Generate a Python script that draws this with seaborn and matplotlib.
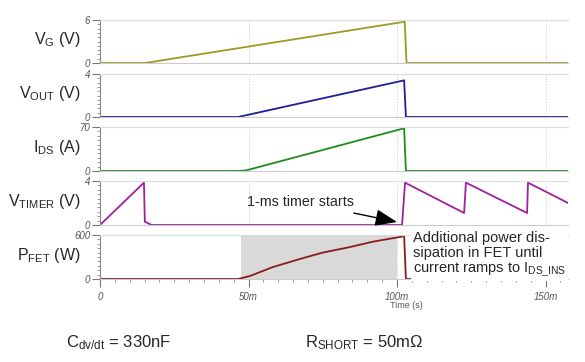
import numpy as np
import pandas as pd
import seaborn as sns
import matplotlib
matplotlib.use("Agg")
import matplotlib.pyplot as plt
from matplotlib.ticker import MultipleLocator, FixedLocator, FuncFormatter

# times in ms
vg_t = [0, 15.2, 102.6, 103.2, 157.6]
vg_v = [0, 0, 5.76, 0, 0]

vout_t = [0, 46.5, 102.4, 103.0, 157.6]
vout_v = [0, 0, 3.41, 0, 0]

ids_t = [0, 46.5, 49.0, 52.0, 102.4, 103.0, 157.6]
ids_v = [0, 0, 0.8, 4.5, 68, 0, 0]

vtim_t = [0, 14.8, 15.1, 17.4, 101.7, 102.7, 122.6, 123.2, 143.8, 144.1, 157.6]
vtim_v = [0, 3.85, 0.3, 0, 0, 3.85, 1.09, 3.85, 1.09, 3.85, 2.0]

pfet_t = [0, 46.5, 50.5, 58.0, 67.3, 75.0, 84.2, 92.0, 101.0, 102.4, 103.0, 157.6]
pfet_v = [0, 0, 41, 160, 273, 360, 436, 510, 573, 586, 0, 0]

panels = [
    ("V$_\\mathregular{G}$ (V)", vg_t, vg_v, 6, "#9e9a22"),
    ("V$_\\mathregular{OUT}$ (V)", vout_t, vout_v, 4, "#1f1f9a"),
    ("I$_\\mathregular{DS}$ (A)", ids_t, ids_v, 70, "#1d8c1d"),
    ("V$_\\mathregular{TIMER}$ (V)", vtim_t, vtim_v, 4, "#a0209e"),
    ("P$_\\mathregular{FET}$ (W)", pfet_t, pfet_v, 600, "#8b1c1c"),
]
shade_start, shade_end = 47.5, 100.0
x_ticks = [0, 50, 100, 150]
x_labels = ["0", "50m", "100m", "150m"]

sns.set_style("white")
plt.rcParams["font.family"] = ["Liberation Sans", "DejaVu Sans"]
plt.rcParams["mathtext.default"] = "regular"

W, H = 585, 362
fig = plt.figure(figsize=(W / 100, H / 100), dpi=100)
left, right = 100, 568
rows = [(20, 63), (74, 117), (127, 171), (181, 225), (235, 279)]
xmax = (right - left) / 2.97

axes = []
for i, ((label, t, v, top, color), (py0, py1)) in enumerate(zip(panels, rows)):
    ax = fig.add_axes([left / W, 1 - py1 / H, (right - left) / W, (py1 - py0) / H])
    axes.append(ax)
    df = pd.DataFrame({"t": t, "v": v})
    sns.lineplot(data=df, x="t", y="v", ax=ax, color=color, lw=1.3,
                 sort=False, estimator=None)
    ax.set_xlim(0, xmax)
    ax.set_ylim(0, top)
    for xv in [50, 100, 150]:
        ax.axvline(xv, color="#d4d4d4", lw=0.7, ls=(0, (1.5, 1.5)), zorder=0)
    ax.set_yticks([0, top])
    ax.set_yticklabels(["0", str(top)])
    ax.yaxis.set_minor_locator(MultipleLocator(top / 10))
    ax.tick_params(axis="y", which="major", length=6, width=0.8, color="#777777",
                   labelsize=7, labelcolor="#555555", pad=1, left=True)
    ax.tick_params(axis="y", which="minor", length=2.5, width=0.6, color="#888888", left=True)
    for lab in ax.get_yticklabels():
        lab.set_fontstyle("italic")
    ax.spines["right"].set_visible(False)
    ax.spines["top"].set_color("#dddddd")
    ax.spines["bottom"].set_color("#cccccc")
    ax.spines["left"].set_color("#888888")
    ax.spines["left"].set_linewidth(0.8)
    ax.set_xlabel("")
    ax.set_ylabel(label, fontsize=11.5, rotation=0, ha="right", va="center")
    ax.yaxis.set_label_coords(-0.041, 0.54)
    if i < 4:
        ax.set_xticks([])
    else:
        ax.xaxis.set_major_locator(FixedLocator(x_ticks))
        ax.xaxis.set_major_formatter(FuncFormatter(lambda val, pos: x_labels[x_ticks.index(int(round(val)))] if int(round(val)) in x_ticks else ""))
        ax.xaxis.set_minor_locator(MultipleLocator(5))
        ax.tick_params(axis="x", which="major", length=6, width=0.8, color="#777777",
                       labelsize=7, labelcolor="#555555", bottom=True, pad=3)
        ax.tick_params(axis="x", which="minor", length=2.5, width=0.6, color="#888888", bottom=True)
        for lab in ax.get_xticklabels():
            lab.set_fontstyle("italic")
        ax.axvspan(shade_start, shade_end, color="#d9d9d9", zorder=0, lw=0)

axes[3].annotate("1-ms timer starts", xy=(100, 0.27), xytext=(49.5, 2.1),
                 fontsize=10.3, ha="left", va="center",
                 arrowprops=dict(arrowstyle="-|>,head_width=0.5,head_length=1.3",
                                 color="black", lw=1, shrinkA=3, shrinkB=0))

fig.text(413 / W, 1 - 231 / H,
         "Additional power dis-\nsipation in FET until\ncurrent ramps to I$_\\mathregular{DS\\_INS}$",
         fontsize=10.5, ha="left", va="top", linespacing=1.1,
         bbox=dict(facecolor="white", edgecolor="none", pad=1.5))

fig.text(406 / W, 1 - 306 / H, "Time (s)", fontsize=6.5, color="#555555",
         ha="center", va="center")

fig.text(66 / W, 1 - 343 / H, "C$_\\mathregular{dv/dt}$ = 330nF", fontsize=12,
         ha="left", va="center")
fig.text(305 / W, 1 - 343 / H, "R$_\\mathregular{SHORT}$ = 50mΩ", fontsize=12,
         ha="left", va="center")

fig.savefig("out.png", dpi=100)
